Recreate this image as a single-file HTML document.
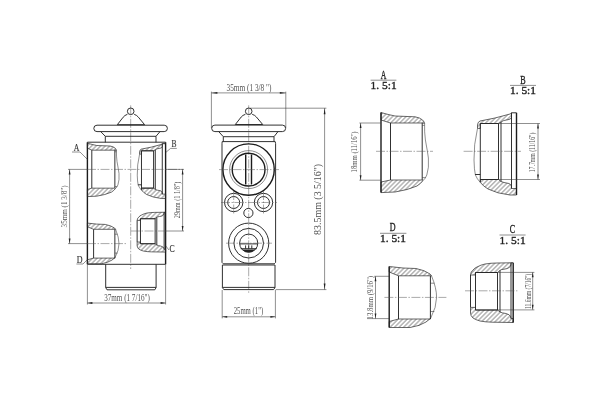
<!DOCTYPE html>
<html><head><meta charset="utf-8">
<style>
html,body{margin:0;padding:0;background:#fff;}
body{width:600px;height:400px;overflow:hidden;}
svg{display:block;filter:blur(0.35px);}
text{font-family:"Liberation Serif",serif;fill:#505050;}
.k{stroke:#1c1c1c;stroke-width:1.4;fill:none;}
.m{stroke:#262626;stroke-width:0.95;fill:none;}
.t{stroke:#333;stroke-width:0.55;fill:none;}
.c{stroke:#555;stroke-width:0.5;fill:none;stroke-dasharray:9 1.5 1.5 1.5;}
.hh{fill:url(#h);stroke:#2a2a2a;stroke-width:0.7;}
.ar{fill:#222;stroke:none;}
.ti{stroke:#222;stroke-width:0.35;fill:#222;}
.tl{stroke:#333;stroke-width:0.15;fill:#333;}
</style></head><body>
<svg width="600" height="400" viewBox="0 0 600 400">
<defs>
<pattern id="h" width="3.2" height="3.2" patternUnits="userSpaceOnUse" patternTransform="rotate(45)">
<line x1="1.6" y1="0" x2="1.6" y2="3.2" stroke="#333" stroke-width="0.55"/>
</pattern>
</defs>
<rect width="600" height="400" fill="#fff"/>

<!-- ================= LEFT VIEW ================= -->
<g id="left">
<!-- centre line -->
<path class="c" d="M130.7,105.3 V269" stroke-dasharray="16 1.5 2 1.5"/>
<!-- ball + dome -->
<circle class="m" cx="130.7" cy="111.3" r="3.3" stroke-width="1"/>
<path class="m" d="M117.3,124.7 L123.2,117.2 Q124.6,115.3 127.4,114.3 M144.6,124.7 L138.4,117.2 Q137,115.3 134.2,114.3 M117.3,124.7 H144.6"/>
<!-- disk -->
<rect class="m" x="93.8" y="125.2" width="73.6" height="6.4" rx="3.2"/>
<path class="m" d="M100.7,131.6 L105.3,136.3 H156 L160,131.6"/>
<path class="m" d="M105.3,136.3 V142.4 M156,136.3 V142.4"/>
<!-- body -->
<path class="k" d="M87.4,142.2 V264.3 M165.6,142.2 V264.3"/>
<path class="m" d="M87.4,142.2 H165.6 M87.4,264.3 H165.6" stroke-width="1.2"/>
<!-- stub -->
<path class="m" d="M105.7,264.3 V287.6 L107,289.8 H154.8 L156.1,287.6 V264.3 M105.7,287.4 H156.1"/>

<!--PA-->
<path class="hh hs" d="M87.40,143.17 Q92.07,144.57 96.73,145.50 L110.07,146.03 Q113.40,146.57 115.13,148.17 Q116.33,149.50 116.47,150.43 L114.87,150.17 L91.80,150.17 L87.40,148.17 Z"/>
<path class="hh hs" d="M87.40,196.57 L96.73,196.17 Q105.40,194.83 111.40,192.17 Q114.07,190.43 115.40,188.57 L114.87,188.17 L91.80,188.17 L87.40,189.50 Z"/>
<path class="m" d="M91.80,150.17 L91.80,188.17 M114.87,150.17 L114.87,188.17"/>
<path class="t" d="M116.47,150.43 Q116.27,156.17 117.00,161.50 Q118.47,169.50 119.00,173.50 Q119.53,180.17 117.93,184.83 Q117.13,187.10 115.40,188.57 M114.87,151.77 L116.40,151.77 M114.87,186.57 L117.13,186.57"/>
<!--/PA-->
<!--PD-->
<path class="hh hs" d="M87.40,223.10 L96.60,224.10 L105.27,224.43 Q111.27,225.57 114.60,228.10 L115.60,229.30 L93.60,229.30 L87.40,226.77 Z"/>
<path class="hh hs" d="M87.40,263.77 L101.27,263.77 Q107.93,262.77 111.93,260.10 L114.93,257.70 L114.93,258.10 L93.60,258.10 L87.40,259.77 Z"/>
<path class="m" d="M93.60,229.30 L93.60,258.10 M114.87,229.30 L114.87,258.10"/>
<path class="t" d="M115.60,229.30 Q119.00,237.43 119.00,243.70 Q119.00,250.10 115.00,257.70 M114.87,234.23 L117.53,234.23 M114.87,253.10 L117.53,253.10"/>
<!--/PD-->
<!--PB-->
<path class="hh hs" d="M139.60,151.80 Q139.67,149.80 141.27,149.13 L151.27,147.13 L161.27,144.47 Q162.20,144.20 162.27,143.67 L162.27,146.80 Q161.93,148.07 159.93,148.27 Q156.60,148.60 155.27,149.80 L153.60,150.80 L141.47,150.80 L141.47,154.07 L139.60,154.07 Z"/>
<path class="hh hs" d="M141.47,188.13 L153.60,188.13 L155.27,189.47 Q156.60,190.13 160.60,190.80 Q162.27,191.47 162.27,193.13 L162.27,194.13 L165.60,194.13 L165.60,198.47 L161.27,198.47 Q152.60,197.53 146.60,194.47 Q143.27,192.47 141.47,190.07 Z"/>
<path class="m" d="M162.27,143.67 L165.60,143.67"/>
<path class="m" d="M162.27,143.67 L162.27,194.13 M153.60,150.80 L153.60,188.13 M155.27,149.80 L155.27,189.47 M141.47,150.80 L141.47,189.80 M141.47,150.80 L153.60,150.80 M141.47,188.13 L153.60,188.13 M137.93,184.80 L141.47,184.80"/>
<path class="t" d="M139.60,154.07 Q137.00,165.13 137.27,175.13 Q137.40,181.80 138.20,185.13 Q139.27,187.80 141.47,190.07"/>
<!--/PB-->
<!--PC-->
<path class="hh hs" d="M137.13,220.40 Q137.47,218.13 138.40,217.47 Q140.13,215.47 141.47,215.07 Q144.13,213.60 146.80,213.07 Q150.80,212.40 154.80,212.40 L164.13,212.27 L164.13,213.40 Q164.00,214.80 162.80,215.47 Q161.87,216.27 159.47,216.53 Q157.47,216.67 156.80,217.33 L155.13,218.73 L140.47,218.73 L140.47,220.40 Z"/>
<path class="hh hs" d="M137.13,242.00 L140.47,242.00 L140.47,243.73 L155.13,243.73 L156.80,245.07 Q158.13,245.73 160.80,246.07 Q163.47,246.80 163.87,248.13 L164.13,249.40 L165.60,249.40 L165.60,252.07 L151.47,251.87 Q146.80,251.73 143.47,251.07 Q140.13,250.13 138.80,249.07 Q137.20,247.73 137.13,245.73 Z"/>
<path class="m" d="M164.13,212.27 L165.60,212.27"/>
<path class="m" d="M137.13,220.40 L137.13,242.00 M140.47,218.73 L140.47,243.73 M155.13,218.73 L155.13,243.73 M156.80,217.33 L156.80,245.07 M164.13,212.27 L164.13,249.40 M140.47,218.73 L155.13,218.73 M140.47,243.73 L155.13,243.73"/>
<!--/PC-->
<!-- centre lines for ports -->
<path class="c" d="M87,169.4 H183"/>
<path class="c" d="M87,243.6 H126 M131,231 H166"/>
<!-- dims -->
<path class="t" d="M68,169.4 H87.4 M68,243.6 H87.4 M69.6,169.4 V243.6"/>
<path class="ar" d="M69.6,169.4 l-0.9,5 h1.8 Z M69.6,243.6 l-0.9,-5 h1.8 Z"/>
<path class="t" d="M165.6,169.4 H184 M165.6,231 H184 M182.6,169.4 V231"/>
<path class="ar" d="M182.6,169.4 l-0.9,5 h1.8 Z M182.6,231 l-0.9,-5 h1.8 Z"/>
<path class="t" d="M87.4,264.3 V304.5 M165.6,264.3 V304.5 M87.4,303 H165.6"/>
<path class="ar" d="M87.4,303 l5,-0.9 v1.8 Z M165.6,303 l-5,-0.9 v1.8 Z"/>
<!-- labels -->
<path class="t" d="M72,152 H80 L87.4,159.4"/>
<path class="t" d="M176.8,148.4 H170.6 L165.8,152.4"/>
<path class="t" d="M165.8,246 L169,250"/>
<path class="t" d="M76.4,264 H83 L87.4,259.6"/>
<text class="tl" x="76.5" y="151" font-size="11" text-anchor="middle" textLength="5.6" lengthAdjust="spacingAndGlyphs">A</text>
<text class="tl" x="173.9" y="147.2" font-size="11" text-anchor="middle" textLength="5" lengthAdjust="spacingAndGlyphs">B</text>
<text class="tl" x="172.2" y="251.6" font-size="11" text-anchor="middle" textLength="5.2" lengthAdjust="spacingAndGlyphs">C</text>
<text class="tl" x="79.6" y="263.2" font-size="11" text-anchor="middle" textLength="5.8" lengthAdjust="spacingAndGlyphs">D</text>
<text x="127" y="300.6" font-size="9.5" text-anchor="middle" textLength="45.5" lengthAdjust="spacingAndGlyphs">37mm (1 7/16")</text>
<text transform="translate(66.8,206.4) rotate(-90)" font-size="8.5" text-anchor="middle" textLength="42" lengthAdjust="spacingAndGlyphs">35mm (1 3/8")</text>
<text transform="translate(180.0,199.9) rotate(-90)" font-size="7.5" text-anchor="middle" textLength="36.6" lengthAdjust="spacingAndGlyphs">29mm (1 1/8")</text>
</g>

<!-- ================= MIDDLE VIEW ================= -->
<g id="mid">
<path class="c" d="M248.7,105.3 V293" stroke-dasharray="16 1.5 2 1.5"/>
<circle class="m" cx="248.7" cy="111.3" r="3.3" stroke-width="1"/>
<path class="m" d="M235.3,124.5 L241.2,117 Q242.6,115.2 245.4,114.3 M262.7,124.5 L256.4,117 Q255,115.2 252.2,114.3 M235.3,124.5 H262.7"/>
<rect class="m" x="211.7" y="125.1" width="73.9" height="6.5" rx="3.2"/>
<path class="m" d="M218.7,131.6 L223.3,136.7 H274 L278,131.6"/>
<path class="m" d="M223.3,136.7 V141.6 M274,136.7 V141.6"/>
<!-- body -->
<path class="m" d="M222.2,141.6 H275.2 L275.6,143.6 V262.4 L274.2,263.8 H223.4 L222,262.4 V143.6 Z"/>
<!-- lower block -->
<path class="m" d="M222.4,265 H275 V287.6 L273.6,289.6 H223.8 L222.4,287.6 Z M222.4,287.4 H275"/>
<!-- big circle -->
<circle class="k" cx="248.6" cy="169.6" r="25.7" stroke-width="1.8"/>
<circle class="k" cx="248.6" cy="169.6" r="16.4" stroke-width="1.5"/>
<circle class="t" cx="248.6" cy="169.6" r="19" stroke-width="0.7"/>
<path class="k" d="M245.7,154.6 V184.6 M251.5,154.6 V184.6" stroke-width="1.2"/>
<path class="c" d="M219,169.6 H279"/>
<!-- two med circles -->
<circle class="m" cx="233.7" cy="202.5" r="9.2" stroke-width="1.15"/>
<circle class="m" cx="233.7" cy="202.5" r="6" stroke-width="1.1"/>
<circle class="m" cx="263.5" cy="202.5" r="9.2" stroke-width="1.15"/>
<circle class="m" cx="263.5" cy="202.5" r="6" stroke-width="1.1"/>
<path class="c" d="M221,202.5 H277 M233.7,191 V214 M263.5,191 V214"/>
<circle class="m" cx="248.4" cy="213" r="4.6" stroke-width="1.15"/>
<!-- lower circle -->
<circle class="m" cx="248.7" cy="243.2" r="20.1" stroke-width="1.15"/>
<circle class="m" cx="248.7" cy="243.2" r="14.8" stroke-width="1.15"/>
<circle class="m" cx="248.7" cy="243.2" r="9.1" stroke-width="1.15"/>
<path d="M242.04,249.40 H255.36 A9.1,9.1 0 0 1 242.04,249.40 Z" fill="#222" stroke="none"/>
<path class="m" d="M239.6,243.9 H257.8 M240.6,248.7 H256.8 M245.6,245.4 V248.7 M248.7,245.4 V248.7 M251.8,245.4 V248.7" stroke-width="0.7"/>
<path class="c" d="M226,243.2 H272"/>
<!-- dims -->
<path class="t" d="M211.4,91.6 V128 M285.8,91.6 V128 M211.4,92.9 H285.8"/>
<path class="ar" d="M211.4,92.9 l6,-0.9 v1.8 Z M285.8,92.9 l-6,-0.9 v1.8 Z"/>
<path class="t" d="M250,108.2 H326.4 M275.6,289.6 H326.4 M324.6,108.2 V289.6"/>
<path class="ar" d="M324.6,108.2 l-0.9,6 h1.8 Z M324.6,289.6 l-0.9,-6 h1.8 Z"/>
<path class="t" d="M222.2,290 V318.4 M275.4,290 V318.4 M222.2,316.8 H275.4"/>
<path class="ar" d="M222.2,316.8 l5,-0.9 v1.8 Z M275.4,316.8 l-5,-0.9 v1.8 Z"/>
<text x="249" y="90.7" font-size="9.5" text-anchor="middle" textLength="45" lengthAdjust="spacingAndGlyphs">35mm (1 3/8 ")</text>
<text x="248.4" y="314.4" font-size="9.5" text-anchor="middle" textLength="29.5" lengthAdjust="spacingAndGlyphs">25mm (1")</text>
<text transform="translate(321.3,199.4) rotate(-90)" font-size="11" text-anchor="middle" textLength="71" lengthAdjust="spacingAndGlyphs">83.5mm (3 5/16")</text>
</g>

<!-- ================= DETAIL A ================= -->
<g id="dA">
<text class="ti" x="383.5" y="78.9" font-size="12" text-anchor="middle" textLength="5.6" lengthAdjust="spacingAndGlyphs">A</text>
<path class="t" d="M370.6,80.2 H396.4"/>
<text x="383.6" y="89" class="ti" font-size="11" text-anchor="middle" textLength="26" lengthAdjust="spacingAndGlyphs">1. 5:1</text>
<!--GA-->
<path class="hh" d="M381.00,112.50 Q388.00,114.60 395.00,116.00 L415.00,116.80 Q420.00,117.60 422.60,120.00 Q424.40,122.00 424.60,123.40 L422.20,123.00 L390.50,123.00 L381.00,120.00 Z"/>
<path class="hh" d="M381.00,192.60 L395.00,192.00 Q408.00,190.00 417.00,186.00 Q421.00,183.40 423.00,180.60 L422.20,180.00 L390.50,180.00 L381.00,182.00 Z"/>
<path class="k" d="M381.00,112.50 L381.00,192.60"/>
<path class="m" d="M390.50,123.00 L390.50,180.00 M422.20,123.00 L422.20,180.00"/>
<path class="t" d="M424.60,123.40 Q424.30,132.00 425.40,140.00 Q427.60,152.00 428.40,158.00 Q429.20,168.00 426.80,175.00 Q425.60,178.40 423.00,180.60 M422.20,125.40 L424.50,125.40 M422.20,177.60 L425.60,177.60"/>
<!--/GA-->
<path class="c" d="M376,151.3 H433"/>
<path class="t" d="M359.4,123 H380.8 M359.4,180.2 H380.8 M360.6,123 V180.2"/>
<path class="ar" d="M360.6,123 l-0.9,5 h1.8 Z M360.6,180.2 l-0.9,-5 h1.8 Z"/>
<text transform="translate(356.5,151.9) rotate(-90)" font-size="7.8" text-anchor="middle" textLength="41" lengthAdjust="spacingAndGlyphs">18mm (11/16")</text>
</g>

<!-- ================= DETAIL B ================= -->
<g id="dB">
<text class="ti" x="523" y="84.4" font-size="12" text-anchor="middle" textLength="5.4" lengthAdjust="spacingAndGlyphs">B</text>
<path class="t" d="M510,85.4 H536"/>
<text x="523" y="94.4" class="ti" font-size="11" text-anchor="middle" textLength="26" lengthAdjust="spacingAndGlyphs">1. 5:1</text>
<!--GB-->
<path class="hh" d="M477.50,125.00 Q477.60,122.00 480.00,121.00 L495.00,118.00 L510.00,114.00 Q511.40,113.60 511.50,112.80 L511.50,117.50 Q511.00,119.40 508.00,119.70 Q503.00,120.20 501.00,122.00 L498.50,123.50 L480.30,123.50 L480.30,128.40 L477.50,128.40 Z"/>
<path class="hh" d="M480.30,179.50 L498.50,179.50 L501.00,181.50 Q503.00,182.50 509.00,183.50 Q511.50,184.50 511.50,187.00 L511.50,188.50 L516.50,188.50 L516.50,195.00 L510.00,195.00 Q497.00,193.60 488.00,189.00 Q483.00,186.00 480.30,182.40 Z"/>
<path class="m" d="M511.50,112.80 L516.50,112.80"/>
<path class="k" d="M516.50,112.80 L516.50,195.00"/>
<path class="m" d="M511.50,112.80 L511.50,188.50 M498.50,123.50 L498.50,179.50 M501.00,122.00 L501.00,181.50 M480.30,123.50 L480.30,182.00 M480.30,123.50 L498.50,123.50 M480.30,179.50 L498.50,179.50 M475.00,174.50 L480.30,174.50"/>
<path class="t" d="M477.50,128.40 Q473.60,145.00 474.00,160.00 Q474.20,170.00 475.40,175.00 Q477.00,179.00 480.30,182.40"/>
<!--/GB-->
<path class="c" d="M463.6,151.3 H521"/>
<path class="t" d="M498.5,123.5 H540 M498.5,179.5 H540 M538,123.5 V179.5"/>
<path class="ar" d="M538,123.5 l-0.9,5 h1.8 Z M538,179.5 l-0.9,-5 h1.8 Z"/>
<text transform="translate(535.3,152.5) rotate(-90)" font-size="7.4" text-anchor="middle" textLength="39.6" lengthAdjust="spacingAndGlyphs">17.7mm (11/16")</text>
</g>

<!-- ================= DETAIL D ================= -->
<g id="dD">
<text class="ti" x="392.6" y="231.4" font-size="12" text-anchor="middle" textLength="5.8" lengthAdjust="spacingAndGlyphs">D</text>
<path class="t" d="M380,233.3 H406.4"/>
<text x="393" y="242.2" class="ti" font-size="11" text-anchor="middle" textLength="26" lengthAdjust="spacingAndGlyphs">1. 5:1</text>
<!--GD-->
<path class="hh" d="M389.20,266.50 L403.00,268.00 L416.00,268.50 Q425.00,270.20 430.00,274.00 L431.50,275.80 L398.50,275.80 L389.20,272.00 Z"/>
<path class="hh" d="M389.20,327.50 L410.00,327.50 Q420.00,326.00 426.00,322.00 L430.50,318.40 L430.50,319.00 L398.50,319.00 L389.20,321.50 Z"/>
<path class="k" d="M389.20,266.50 L389.20,327.50" stroke-width="1.8"/>
<path class="m" d="M398.50,275.80 L398.50,319.00 M430.40,275.80 L430.40,319.00"/>
<path class="t" d="M431.50,275.80 Q436.60,288.00 436.60,297.40 Q436.60,307.00 430.60,318.40 M430.40,283.20 L434.40,283.20 M430.40,311.50 L434.40,311.50"/>
<!--/GD-->
<path class="c" d="M384.4,297.4 H446.4"/>
<path class="t" d="M374.2,276.3 H389.2 M367.3,318.6 H389.2 M375.5,276.3 V318.6"/>
<path class="ar" d="M375.5,276.3 l-0.9,5 h1.8 Z M375.5,318.6 l-0.9,-5 h1.8 Z"/>
<text transform="translate(372.6,297.7) rotate(-90)" font-size="7.5" text-anchor="middle" textLength="43.4" lengthAdjust="spacingAndGlyphs">13.8mm (9/16")</text>
</g>

<!-- ================= DETAIL C ================= -->
<g id="dC">
<text class="ti" x="512.4" y="233.2" font-size="12" text-anchor="middle" textLength="5.4" lengthAdjust="spacingAndGlyphs">C</text>
<path class="t" d="M499.5,235 H525.6"/>
<text x="512.6" y="243.8" class="ti" font-size="11" text-anchor="middle" textLength="26" lengthAdjust="spacingAndGlyphs">1. 5:1</text>
<!--GC-->
<path class="hh" d="M470.50,275.00 Q471.00,271.60 472.40,270.60 Q475.00,267.60 477.00,267.00 Q481.00,264.80 485.00,264.00 Q491.00,263.00 497.00,263.00 L511.00,262.80 L511.00,264.50 Q510.80,266.60 509.00,267.60 Q507.60,268.80 504.00,269.20 Q501.00,269.40 500.00,270.40 L497.50,272.50 L475.50,272.50 L475.50,275.00 Z"/>
<path class="hh" d="M470.50,307.40 L475.50,307.40 L475.50,310.00 L497.50,310.00 L500.00,312.00 Q502.00,313.00 506.00,313.50 Q510.00,314.60 510.60,316.60 L511.00,318.50 L513.20,318.50 L513.20,322.50 L492.00,322.20 Q485.00,322.00 480.00,321.00 Q475.00,319.60 473.00,318.00 Q470.60,316.00 470.50,313.00 Z"/>
<path class="m" d="M511.00,262.80 L513.20,262.80"/>
<path class="k" d="M513.20,262.80 L513.20,322.50" stroke-width="1.8"/>
<path class="m" d="M470.50,275.00 L470.50,307.40 M475.50,272.50 L475.50,310.00 M497.50,272.50 L497.50,310.00 M500.00,270.40 L500.00,312.00 M511.00,262.80 L511.00,318.50 M475.50,272.50 L497.50,272.50 M475.50,310.00 L497.50,310.00"/>
<!--/GC-->
<path class="c" d="M465,290.8 H517.4"/>
<path class="t" d="M497.5,272.4 H534.4 M497.5,309.9 H534.4 M532.7,272.3 V309.8"/>
<path class="ar" d="M532.7,272.3 l-0.9,5 h1.8 Z M532.7,309.8 l-0.9,-5 h1.8 Z"/>
<text transform="translate(530.8,291.3) rotate(-90)" font-size="8.4" text-anchor="middle" textLength="35.5" lengthAdjust="spacingAndGlyphs">11.6mm (7/16")</text>
</g>
</svg>
</body></html>
